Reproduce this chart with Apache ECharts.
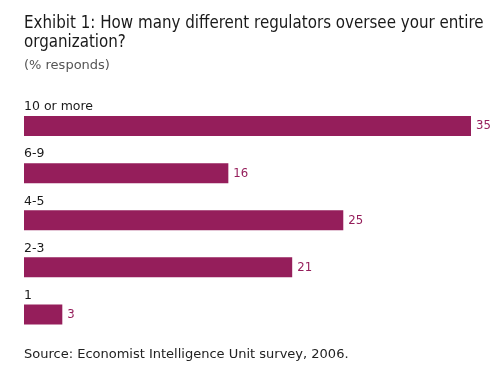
<!DOCTYPE html>
<html><head><meta charset="utf-8">
<script src="https://cdn.jsdelivr.net/npm/echarts@6/dist/echarts.min.js"></script>
<style>html,body{margin:0;padding:0;background:#fff}#c{width:500px;height:366px}</style>
</head><body><div id="c"></div>
<script>
const categories = ['10 or more', '6-9', '4-5', '2-3', '1'];
const values = [35, 16, 25, 21, 3];
const titleText = 'Exhibit 1: How many different regulators oversee your entire\norganization?';
const subtitleText = '(% responds)';
const sourceText = 'Source: Economist Intelligence Unit survey, 2006.';

const barColor = '#951e5b';
const chart = echarts.init(document.getElementById('c'), null, {renderer: 'canvas'});
chart.setOption({
  animation: false,
  backgroundColor: '#fff',
  title: [
    {text: titleText, left: 24, top: 14, padding: 0,
     textStyle: {fontFamily: '"Liberation Sans Narrow","DejaVu Sans Condensed",sans-serif', fontSize: 16.8, fontWeight: 'normal', color: '#1a1a1a', lineHeight: 19}},
    {text: subtitleText, left: 24, top: 58, padding: 0,
     textStyle: {fontFamily: '"DejaVu Sans",sans-serif', fontSize: 13, fontWeight: 'normal', color: '#555', lineHeight: 15}},
    {text: sourceText, left: 24, top: 347, padding: 0,
     textStyle: {fontFamily: '"DejaVu Sans",sans-serif', fontSize: 13, fontWeight: 'normal', color: '#222', lineHeight: 15}}
  ],
  grid: {left: 24, right: 29, top: 102.5, bottom: 28, containLabel: false},
  xAxis: {type: 'value', min: 0, max: 35, show: false},
  yAxis: {type: 'category', data: categories, inverse: true, show: false},
  series: [
    {type: 'bar', data: values, barWidth: 20,
     itemStyle: {color: barColor},
     label: {show: true, position: 'right', distance: 5, color: barColor,
             fontFamily: '"Liberation Sans Narrow","DejaVu Sans Condensed",sans-serif', fontSize: 13}},
    {type: 'bar', data: values, barWidth: 20, barGap: '-100%', silent: true,
     itemStyle: {color: 'rgba(0,0,0,0)'},
     label: {show: true, position: [0, -9], verticalAlign: 'middle', align: 'left',
             formatter: p => categories[p.dataIndex], color: '#1a1a1a',
             fontFamily: '"DejaVu Sans",sans-serif', fontSize: 12.5}}
  ]
});
</script></body></html>
